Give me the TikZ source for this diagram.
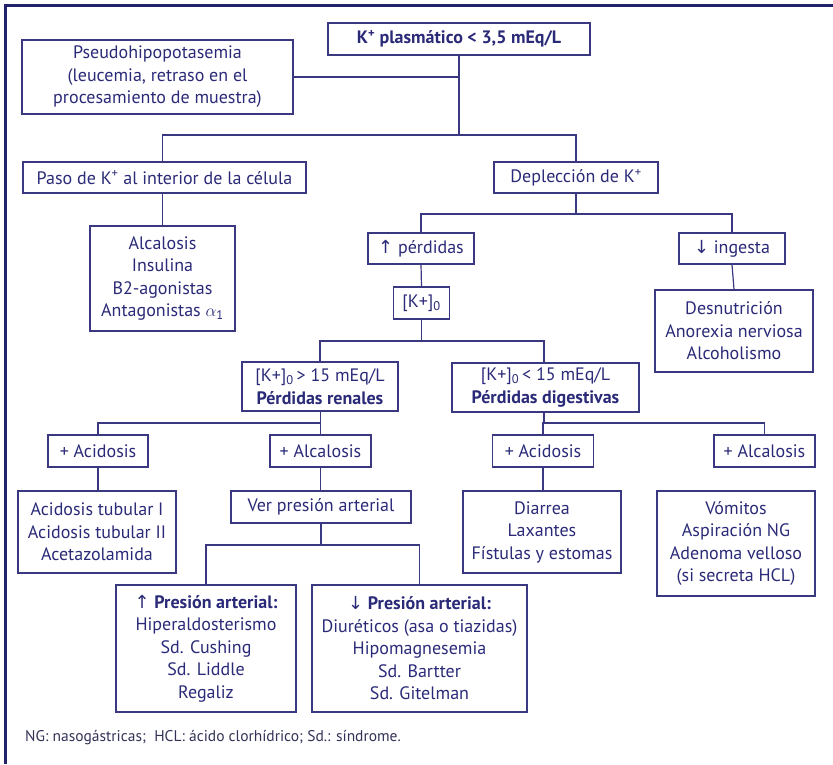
\documentclass[tikz,border=0pt]{standalone}
\usepackage{fontspec}
\setmainfont{PT Sans}
\newfontfamily\flechas{DejaVu Sans}
\usepackage{tikz}

\definecolor{navy}{RGB}{42,42,120}
\definecolor{linea}{RGB}{58,56,128}
\definecolor{marco}{RGB}{34,34,108}
\definecolor{nota}{RGB}{50,50,88}

\newcommand{\Kp}{K\textsuperscript{+}}
\newcommand{\Kcero}{[K+]\textsubscript{0}}
\newcommand{\sube}{{\flechas\char"2191}}
\newcommand{\baja}{{\flechas\char"2193}}

\begin{document}
\begin{tikzpicture}[x=1pt,y=-1pt,
  caja/.style={draw=linea, line width=1.2pt, text=navy, align=center, inner sep=2pt,
    font=\fontsize{18}{22.5}\selectfont},
  conn/.style={draw=linea, line width=1.2pt}]

\useasboundingbox (0,0) rectangle (833,764);

\draw[marco, line width=3pt] (833,5) -- (5.5,5) -- (5.5,764);

\node[caja, minimum width=262pt, minimum height=32pt] (top) at (459,39) {\textbf{\Kp\ plasmático < 3,5 mEq/L}};
\node[caja, minimum width=271pt, minimum height=74pt] (pseudo) at (157.5,77) {Pseudohipopotasemia\\(leucemia, retraso en el\\procesamiento de muestra)};

\node[caja, minimum width=283pt, minimum height=31pt] (paso) at (164.5,177.5) {Paso de \Kp\ al interior de la célula};
\node[caja, minimum width=164pt, minimum height=31pt] (deple) at (576,177.5) {Deplección de \Kp};

\node[caja, minimum width=145pt, minimum height=105pt] (celula) at (162.5,278.5) {Alcalosis\\Insulina\\B2-agonistas\\Antagonistas $\alpha$\textsubscript{1}};
\node[caja, minimum width=106pt, minimum height=31pt] (perd) at (421,248.5) {\sube\ pérdidas};
\node[caja, minimum width=106pt, minimum height=31pt] (ing) at (732,248.5) {\baja\ ingesta};
\node[caja, minimum width=158pt, minimum height=82pt] (desn) at (734,331) {Desnutrición\\Anorexia nerviosa\\Alcoholismo};

\node[caja, minimum width=56pt, minimum height=32pt] (kcero) at (421.5,303) {\Kcero};

\node[caja, minimum width=156pt, minimum height=49pt] (renal) at (320,386.5) {\Kcero\,> 15 mEq/L\\\textbf{Pérdidas renales}};
\node[caja, minimum width=187pt, minimum height=49pt] (dig) at (545.5,387.5) {\Kcero\,< 15 mEq/L\\\textbf{Pérdidas digestivas}};

\node[caja, minimum width=100pt, minimum height=32pt] (acir) at (98,451) {+ Acidosis};
\node[caja, minimum width=101pt, minimum height=32pt] (alkr) at (320.5,451) {+ Alcalosis};
\node[caja, minimum width=101pt, minimum height=32pt] (acid) at (543,451) {+ Acidosis};
\node[caja, minimum width=101pt, minimum height=32pt] (alkd) at (764.5,451) {+ Alcalosis};

\node[caja, minimum width=158pt, minimum height=82pt] (tub) at (97,532) {Acidosis tubular I\\Acidosis tubular II\\Acetazolamida};
\node[caja, minimum width=180pt, minimum height=32pt] (ver) at (321,507) {Ver presión arterial};
\node[caja, minimum width=158pt, minimum height=82pt] (diarrea) at (542,532) {Diarrea\\Laxantes\\Fístulas y estomas};
\node[caja, minimum width=158pt, minimum height=105pt] (vomitos) at (736,543.5) {Vómitos\\Aspiración NG\\Adenoma velloso\\(si secreta HCL)};

\node[caja, minimum width=180pt, minimum height=127pt] (alta) at (206,648.5) {\sube\ \textbf{Presión arterial:}\\Hiperaldosterismo\\Sd. Cushing\\Sd. Liddle\\Regaliz};
\node[caja, minimum width=215pt, minimum height=127pt] (bajaPA) at (419.5,648.5) {\baja\ \textbf{Presión arterial:}\\Diuréticos (asa o tiazidas)\\Hipomagnesemia\\Sd. Bartter\\Sd. Gitelman};

\node[anchor=west, text=nota, inner sep=0pt, font=\fontsize{15.5}{18}\selectfont] (pie) at (25,738) {NG: nasogástricas;\ \ HCL: ácido clorhídrico; Sd.: síndrome.};

\coordinate (j0) at (459,135);
\coordinate (j1) at (576,214);
\coordinate (j2) at (421.5,341);
\coordinate (j3) at (320.5,423);
\coordinate (j4) at (544,423);
\coordinate (j5) at (321,545);

\draw[conn] (top.south) -- (j0);
\draw[conn] (pseudo.east) -- (pseudo.east -| top.south);
\draw[conn] (paso.north -| celula.north) |- (j0) -| (deple.north);
\draw[conn] (paso.south -| celula.north) -- (celula.north);
\draw[conn] (deple.south) -- (j1);
\draw[conn] (perd.north) |- (j1) -| (ing.north);
\draw[conn] (ing.south) -- (desn.north);
\draw[conn] (perd.south) -- (kcero.north);
\draw[conn] (kcero.south) -- (j2);
\draw[conn] (renal.north) |- (j2) -| (dig.north -| j4);
\draw[conn] (renal.south -| alkr.north) -- (alkr.north);
\draw[conn] (acir.north) |- (j3);
\draw[conn] (dig.south -| j4) -- (j4);
\draw[conn] (acid.north) |- (j4) -| (alkd.north);
\draw[conn] (acir.south) -- (tub.north -| acir.south);
\draw[conn] (alkr.south) -- (ver.north -| alkr.south);
\draw[conn] (acid.south) -- (diarrea.north -| acid.south);
\draw[conn] (ver.south) -- (j5);
\draw[conn] (alta.north) |- (j5) -| (bajaPA.north);

\end{tikzpicture}
\end{document}
